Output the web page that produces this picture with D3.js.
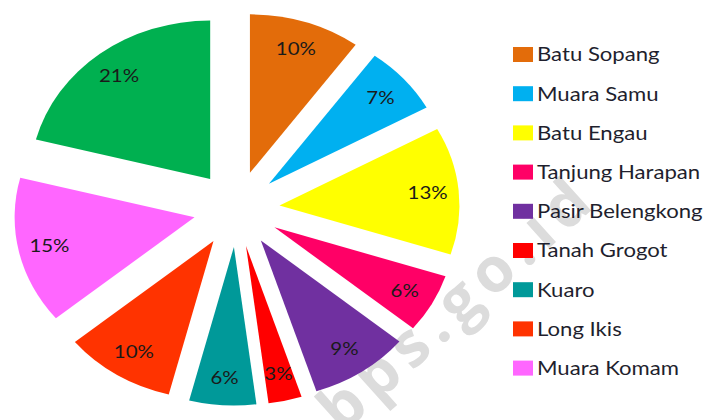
<!DOCTYPE html>
<html>
<head>
<meta charset="utf-8">
<script src="https://cdn.jsdelivr.net/npm/d3@7"></script>
<style>
  html, body { margin: 0; padding: 0; background: #fff; }
  svg { display: block; }
</style>
</head>
<body>
<div id="chart"></div>
<script>
// districts in drawing order (clockwise from 12 o'clock)
const districts = ["Batu Sopang", "Muara Samu", "Batu Engau", "Tanjung Harapan", "Pasir Belengkong",
  "Tanah Grogot", "Kuaro", "Long Ikis", "Muara Komam", "Long Kali"];
const shares = [10, 7, 13, 6, 9, 3, 6, 10, 15, 21];
const colors = ["#E36C0A", "#00B0F0", "#FFFF00", "#FF0066", "#7030A0",
  "#FF0000", "#009999", "#FF3300", "#FF66FF", "#00B050"];
// the legend in the picture is cut off after the 9th entry
const legendNames = districts.slice(0, 9);

const width = 708, height = 420;
const stretch = 1.135; // source image is stretched horizontally
const radius = 158.5, explode = 38;

const svg = d3.select("#chart").append("svg")
  .attr("width", width)
  .attr("height", height);

// watermark, sits behind the pie
svg.append("text")
  .attr("transform", "translate(460,306) rotate(-42)")
  .attr("text-anchor", "middle")
  .attr("dominant-baseline", "middle")
  .style("font-family", "'Open Sans', sans-serif")
  .style("font-weight", "bold")
  .style("font-size", "62px")
  .style("letter-spacing", "8px")
  .style("fill", "#dcdcdc")
  .text("bps.go.id");

const root = svg.append("g")
  .attr("transform", `scale(${stretch},1)`);

const pie = d3.pie().sort(null).value(d => d);
const arcs = pie(shares);
const total = d3.sum(shares);

const arc = d3.arc().innerRadius(0).outerRadius(radius);
const labelArc = d3.arc().innerRadius(131).outerRadius(131);

const pieG = root.append("g")
  .attr("transform", `translate(${236.6 / stretch},209)`);

const slices = pieG.selectAll("g.slice")
  .data(arcs)
  .join("g")
  .attr("class", "slice")
  .attr("transform", d => {
    const mid = (d.startAngle + d.endAngle) / 2;
    return `translate(${explode * Math.sin(mid)},${-explode * Math.cos(mid)})`;
  });

slices.append("path")
  .attr("d", arc)
  .style("fill", (d, i) => colors[i]);

slices.append("text")
  .attr("transform", d => `translate(${labelArc.centroid(d)})`)
  .attr("text-anchor", "middle")
  .attr("dy", "0.35em")
  .style("font-family", "Lato, sans-serif")
  .style("font-size", "18px")
  .style("fill", "#1a1a1a")
  .text(d => d3.format(".0%")(d.value / total));

// legend
const legend = root.append("g")
  .attr("transform", `translate(${513 / stretch},54.5)`);

const items = legend.selectAll("g")
  .data(legendNames)
  .join("g")
  .attr("transform", (d, i) => `translate(0,${i * 39.2})`);

items.append("rect")
  .attr("x", 0)
  .attr("y", -7.5)
  .attr("width", 20 / stretch)
  .attr("height", 15)
  .style("fill", (d, i) => colors[i]);

items.append("text")
  .attr("x", 24 / stretch)
  .attr("dy", "0.35em")
  .style("font-family", "Lato, sans-serif")
  .style("font-size", "19.5px")
  .style("fill", "#1f1f2e")
  .text(d => d);
</script>
</body>
</html>
